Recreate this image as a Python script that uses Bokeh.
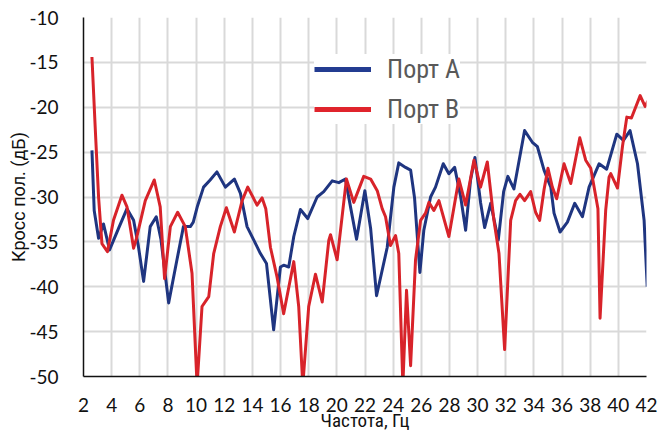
from bokeh.plotting import figure
from bokeh.models import FixedTicker, Legend, LegendItem, ColumnDataSource, Range1d
from bokeh.embed import file_html
from bokeh.resources import INLINE

# ---- data ----
freq_a = [2.6, 2.76, 3.07, 3.42, 3.85, 4.49, 5.09, 5.56, 5.9, 6.27, 6.74, 7.17, 7.5, 8.05,
          8.64, 9.1, 9.59, 9.8, 10.1, 10.53, 11.0, 11.48, 12.08, 12.72, 13.15, 13.62, 14.1,
          14.57, 15.0, 15.51, 15.99, 16.22, 16.58, 16.94, 17.41, 17.93, 18.6, 19.07, 19.67,
          20.14, 20.61, 20.97, 21.4, 21.99, 22.4, 22.82, 23.58, 24.05, 24.4, 24.88, 25.24,
          25.52, 25.9, 26.18, 26.66, 27.01, 27.56, 27.96, 28.37, 28.8, 29.15, 29.5, 29.81,
          30.21, 30.5, 30.93, 31.47, 31.85, 32.15, 32.58, 33.34, 33.89, 34.25, 34.72, 35.2,
          35.43, 35.86, 36.38, 36.9, 37.45, 37.92, 38.63, 39.17, 39.89, 40.36, 40.83, 41.36,
          41.83, 42.05]
port_a = [-24.8, -31.5, -34.6, -33.0, -35.9, -33.5, -31.3, -32.6, -35.5, -39.4, -33.3, -32.2,
          -34.7, -41.8, -37.0, -33.3, -33.3, -32.8, -31.0, -28.9, -28.1, -27.2, -28.9, -28.0,
          -29.6, -33.3, -34.8, -36.3, -37.4, -44.8, -37.8, -37.6, -37.8, -34.4, -31.4, -32.4,
          -30.0, -29.4, -28.2, -28.4, -28.0, -31.1, -34.7, -29.3, -33.5, -41.0, -35.6, -28.9,
          -26.2, -26.7, -27.0, -30.1, -38.4, -33.7, -30.0, -28.9, -26.3, -27.4, -26.7, -30.0,
          -33.7, -28.1, -25.6, -30.6, -33.4, -30.7, -34.8, -29.4, -27.7, -29.1, -22.6, -23.9,
          -24.4, -27.0, -28.9, -31.8, -33.9, -32.8, -30.7, -32.2, -28.9, -26.3, -26.9, -23.0,
          -23.7, -22.6, -26.3, -32.6, -40.0]

freq_b = [2.6, 2.83, 3.07, 3.31, 3.7, 4.13, 4.73, 5.09, 5.56, 5.75, 6.39, 7.03, 7.45, 7.76,
          8.17, 8.69, 9.23, 9.71, 10.07, 10.42, 10.73, 10.9, 11.25, 11.72, 12.15, 12.72, 13.27,
          13.67, 14.33, 14.69, 14.95, 15.28, 15.75, 16.22, 16.94, 17.29, 17.58, 18.0, 18.48,
          18.96, 19.43, 19.55, 20.02, 20.68, 21.2, 21.91, 22.4, 22.87, 23.22, 23.46, 23.81,
          24.17, 24.4, 24.69, 24.95, 25.24, 25.59, 25.95, 26.3, 26.54, 26.89, 27.25, 27.96,
          28.67, 29.15, 29.74, 30.21, 30.69, 31.16, 31.52, 31.92, 32.35, 32.7, 33.01, 33.34,
          33.77, 34.12, 34.41, 34.72, 35.0, 35.31, 35.62, 36.14, 36.62, 37.26, 37.68, 38.04,
          38.55, 38.7, 39.1, 39.34, 39.46, 39.94, 40.29, 40.6, 40.93, 41.55, 41.9, 42.1]
port_b = [-14.4, -22.2, -30.0, -35.2, -36.1, -32.6, -29.8, -31.1, -35.7, -34.7, -30.4, -28.1,
          -31.1, -39.1, -33.3, -31.7, -33.3, -38.5, -51.0, -42.2, -41.5, -41.1, -36.3, -33.3,
          -31.2, -33.9, -30.4, -28.9, -30.9, -30.1, -31.3, -35.6, -38.9, -43.0, -37.2, -42.2,
          -51.0, -42.2, -38.6, -41.7, -34.8, -34.2, -37.0, -28.0, -30.6, -27.7, -28.0, -29.3,
          -31.3, -32.2, -35.4, -34.3, -36.3, -51.0, -40.4, -48.8, -37.0, -32.6, -31.8, -30.6,
          -31.5, -30.4, -34.4, -28.0, -30.9, -25.9, -28.9, -26.1, -32.6, -36.3, -47.0, -32.6,
          -30.4, -29.7, -30.4, -29.4, -31.7, -32.6, -29.2, -26.8, -28.9, -30.2, -26.3, -28.5,
          -23.4, -25.9, -26.8, -31.3, -43.5, -31.5, -27.8, -27.4, -29.0, -24.4, -21.1, -21.2,
          -18.7, -19.9, -19.3]

x_ticks = [2, 4, 6, 8, 10, 12, 14, 16, 18, 20, 22, 24, 26, 28, 30, 32, 34, 36, 38, 40, 42]
x_labels = ["2", "4", "6", "8", "10", "12", "14", "16", "18", "20", "22", "24", "26", "28",
            "30", "32", "34", "36", "38", "40", "42"]
y_ticks = [-50, -45, -40, -35, -30, -25, -20, -15, -10]
y_labels = ["-50", "-45", "-40", "-35", "-30", "-25", "-20", "-15", "-10"]
series_names = ["Порт A", "Порт B"]
x_title = "Частота, Гц"
y_title = "Кросс пол. (дБ)"

BLUE = "#1f3580"
RED = "#d8232a"

p = figure(width=666, height=434, output_backend="svg", toolbar_location=None,
           x_range=Range1d(2, 42), y_range=Range1d(-50, -10),
           min_border_left=83, min_border_right=20, min_border_top=17, min_border_bottom=57)
p.outline_line_color = None
p.background_fill_color = "white"

tick_font = "Lato"
narrow_font = "Liberation Sans Narrow, Roboto Condensed, Roboto"

p.xaxis.ticker = FixedTicker(ticks=x_ticks)
p.yaxis.ticker = FixedTicker(ticks=y_ticks)
p.xaxis.major_label_overrides = {t: l for t, l in zip(x_ticks, x_labels)}
p.yaxis.major_label_overrides = {t: l for t, l in zip(y_ticks, y_labels)}
for ax in (p.xaxis[0], p.yaxis[0]):
    ax.major_tick_line_color = None
    ax.minor_tick_line_color = None
    ax.axis_line_color = "#111111"
    ax.axis_line_width = 1.5
    ax.major_label_text_font = tick_font
    ax.major_label_text_font_size = "19px"
    ax.major_label_text_color = "#111111"
    ax.axis_label_text_font_style = "normal"
    ax.axis_label_text_color = "#111111"
p.xaxis.axis_label = x_title
p.yaxis.axis_label = y_title
p.xaxis.axis_label_text_font = narrow_font
p.xaxis.axis_label_text_font_size = "19px"
p.yaxis.axis_label_text_font = "Roboto"
p.yaxis.axis_label_text_font_size = "18px"
p.xaxis.major_label_standoff = 15
p.yaxis.major_label_standoff = 19
p.xaxis.axis_label_standoff = -6
p.yaxis.axis_label_standoff = -3

p.xgrid.grid_line_color = "#d9d9d9"
p.ygrid.grid_line_color = "#d9d9d9"
p.xgrid.grid_line_width = 2
p.ygrid.grid_line_width = 2

src_a = ColumnDataSource(dict(x=freq_a, y=port_a))
src_b = ColumnDataSource(dict(x=freq_b, y=port_b))
ra = p.line("x", "y", source=src_a, line_color=BLUE, line_width=3, line_join="round")
rb = p.line("x", "y", source=src_b, line_color=RED, line_width=3, line_join="round")

# legend swatches (thicker lines; a single NaN point so nothing is drawn in the plot)
nan = float("nan")
la = p.line(x=[nan], y=[nan], line_color="#233c91", line_width=5)
lb = p.line(x=[nan], y=[nan], line_color="#e0242c", line_width=5)

legend = Legend(items=[LegendItem(label=series_names[0], renderers=[la]),
                       LegendItem(label=series_names[1], renderers=[lb])],
                location=(231, 252), orientation="vertical",
                background_fill_color="white", background_fill_alpha=1.0,
                border_line_color=None, glyph_width=57, glyph_height=30,
                label_height=30, spacing=10, padding=16, margin=0, label_standoff=16,
                label_text_font=narrow_font, label_text_font_size="26px",
                label_text_color="#595959")
p.add_layout(legend)

open("out.html", "w").write(file_html(p, INLINE))
